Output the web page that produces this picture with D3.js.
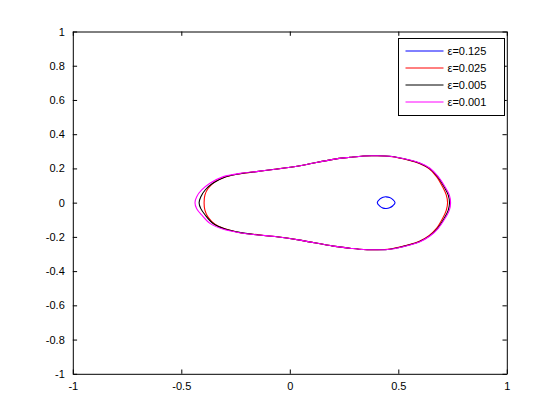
<!DOCTYPE html>
<html>
<head>
<meta charset="utf-8">
<script src="https://cdn.jsdelivr.net/npm/d3@7"></script>
<style>
  body { margin: 0; background: #fff; }
  text { font-family: "Liberation Sans", Arial, sans-serif; font-size: 11px; fill: #000; }
</style>
</head>
<body>
<svg width="560" height="420"></svg>
<script>
var svg = d3.select("svg"),
  width = +svg.attr("width"),
  height = +svg.attr("height");

// curve data, [x, y] pairs, closed loops
var eps125 = [
  [0.403, 0], [0.416, 0.022], [0.430, 0.032], [0.444, 0.034], [0.460, 0.030], [0.475, 0.018], [0.485, 0],
  [0.475, -0.018], [0.460, -0.030], [0.444, -0.034], [0.430, -0.032], [0.416, -0.022]
];
var eps025 = [
  [-0.395, 0], [-0.391, 0.045], [-0.376, 0.084], [-0.345, 0.122], [-0.306, 0.146], [-0.245, 0.166],
  [-0.183, 0.177], [-0.068, 0.195], [0.047, 0.216], [0.200, 0.253], [0.277, 0.265], [0.339, 0.273],
  [0.393, 0.274], [0.462, 0.270], [0.552, 0.247], [0.597, 0.229], [0.641, 0.199], [0.677, 0.151],
  [0.704, 0.093], [0.721, 0.045], [0.727, 0],
  [0.721, -0.045], [0.704, -0.093], [0.677, -0.149], [0.641, -0.193], [0.597, -0.226], [0.552, -0.245],
  [0.462, -0.271], [0.393, -0.275], [0.339, -0.274], [0.277, -0.266], [0.200, -0.254], [0.047, -0.219],
  [-0.068, -0.198], [-0.183, -0.183], [-0.245, -0.171], [-0.306, -0.150], [-0.345, -0.126],
  [-0.376, -0.086], [-0.391, -0.045]
];
var eps005 = [
  [-0.418, 0], [-0.410, 0.035], [-0.390, 0.074], [-0.355, 0.113], [-0.298, 0.150], [-0.225, 0.170],
  [-0.145, 0.183], [-0.068, 0.195], [0.047, 0.216], [0.200, 0.253], [0.277, 0.265], [0.339, 0.273],
  [0.393, 0.274], [0.462, 0.271], [0.553, 0.248], [0.599, 0.230], [0.644, 0.200], [0.681, 0.152],
  [0.711, 0.093], [0.730, 0.045], [0.736, 0],
  [0.730, -0.045], [0.711, -0.093], [0.681, -0.150], [0.644, -0.194], [0.599, -0.227], [0.553, -0.246],
  [0.462, -0.272], [0.393, -0.275], [0.339, -0.274], [0.277, -0.266], [0.200, -0.254], [0.047, -0.219],
  [-0.068, -0.198], [-0.145, -0.189], [-0.225, -0.175], [-0.298, -0.154], [-0.355, -0.120],
  [-0.390, -0.072], [-0.410, -0.035]
];
var eps001 = [
  [-0.437, 0], [-0.429, 0.035], [-0.406, 0.074], [-0.368, 0.113], [-0.306, 0.152], [-0.229, 0.171],
  [-0.145, 0.183], [-0.068, 0.195], [0.047, 0.216], [0.200, 0.253], [0.277, 0.265], [0.339, 0.273],
  [0.393, 0.274], [0.462, 0.271], [0.554, 0.249], [0.600, 0.231], [0.646, 0.201], [0.684, 0.152],
  [0.715, 0.093], [0.735, 0.045], [0.741, 0],
  [0.735, -0.045], [0.715, -0.093], [0.684, -0.150], [0.646, -0.195], [0.600, -0.228], [0.554, -0.247],
  [0.462, -0.272], [0.393, -0.275], [0.339, -0.274], [0.277, -0.266], [0.200, -0.254], [0.047, -0.219],
  [-0.068, -0.198], [-0.145, -0.189], [-0.229, -0.176], [-0.306, -0.156], [-0.368, -0.121],
  [-0.406, -0.072], [-0.429, -0.035]
];

var seriesNames = ["\u03b5=0.125", "\u03b5=0.025", "\u03b5=0.005", "\u03b5=0.001"];
var seriesColors = ["#0000ff", "#ff0000", "#000000", "#ff00ff"];
var seriesData = [eps125, eps025, eps005, eps001];

var xTicks = [-1, -0.5, 0, 0.5, 1];
var yTicks = [-1, -0.8, -0.6, -0.4, -0.2, 0, 0.2, 0.4, 0.6, 0.8, 1];

var margin = { left: 72.8, right: 53.2, top: 31.5, bottom: 46.2 };
var plotW = width - margin.left - margin.right,
  plotH = height - margin.top - margin.bottom;

var x = d3.scaleLinear().domain([-1, 1]).range([0, plotW]);
var y = d3.scaleLinear().domain([-1, 1]).range([plotH, 0]);

var g = svg.append("g").attr("transform", "translate(" + margin.left + "," + margin.top + ")");

var fmt = function (d) { return String(d); };
var tl = 4.3;

// axes, ticks inward on all four sides
g.append("g").attr("transform", "translate(0," + plotH + ")")
  .call(d3.axisBottom(x).tickValues(xTicks).tickFormat(fmt).tickSizeInner(-tl).tickSizeOuter(0).tickPadding(8));
g.append("g")
  .call(d3.axisTop(x).tickValues(xTicks).tickFormat("").tickSizeInner(-tl).tickSizeOuter(0));
g.append("g")
  .call(d3.axisLeft(y).tickValues(yTicks).tickFormat(fmt).tickSizeInner(-tl).tickSizeOuter(0).tickPadding(8));
g.append("g").attr("transform", "translate(" + plotW + ",0)")
  .call(d3.axisRight(y).tickValues(yTicks).tickFormat("").tickSizeInner(-tl).tickSizeOuter(0));

g.selectAll(".domain").attr("stroke", "#000");
g.selectAll(".tick line").attr("stroke", "#000");
g.selectAll(".tick text").attr("font-size", 11).attr("font-family", "Liberation Sans, Arial, sans-serif");

var line = d3.line()
  .x(function (d) { return x(d[0]); })
  .y(function (d) { return y(d[1]); })
  .curve(d3.curveCatmullRomClosed);

g.selectAll(".curve")
  .data(seriesData)
  .enter()
  .append("path")
  .attr("class", "curve")
  .attr("fill", "none")
  .attr("stroke", function (d, i) { return seriesColors[i]; })
  .attr("stroke-width", 1.1)
  .attr("d", line);

// legend
var lg = svg.append("g").attr("transform", "translate(398.5,38.5)");
lg.append("rect").attr("width", 106).attr("height", 77)
  .attr("fill", "#fff").attr("stroke", "#000").attr("stroke-width", 1);
var rows = lg.selectAll(".row").data(seriesNames).enter().append("g")
  .attr("transform", function (d, i) { return "translate(0," + (12.5 + i * 17) + ")"; });
rows.append("line").attr("x1", 7).attr("x2", 45)
  .attr("stroke", function (d, i) { return seriesColors[i]; }).attr("stroke-width", 1);
rows.append("text").attr("x", 49).attr("dy", "0.35em").text(function (d) { return d; });
</script>
</body>
</html>
